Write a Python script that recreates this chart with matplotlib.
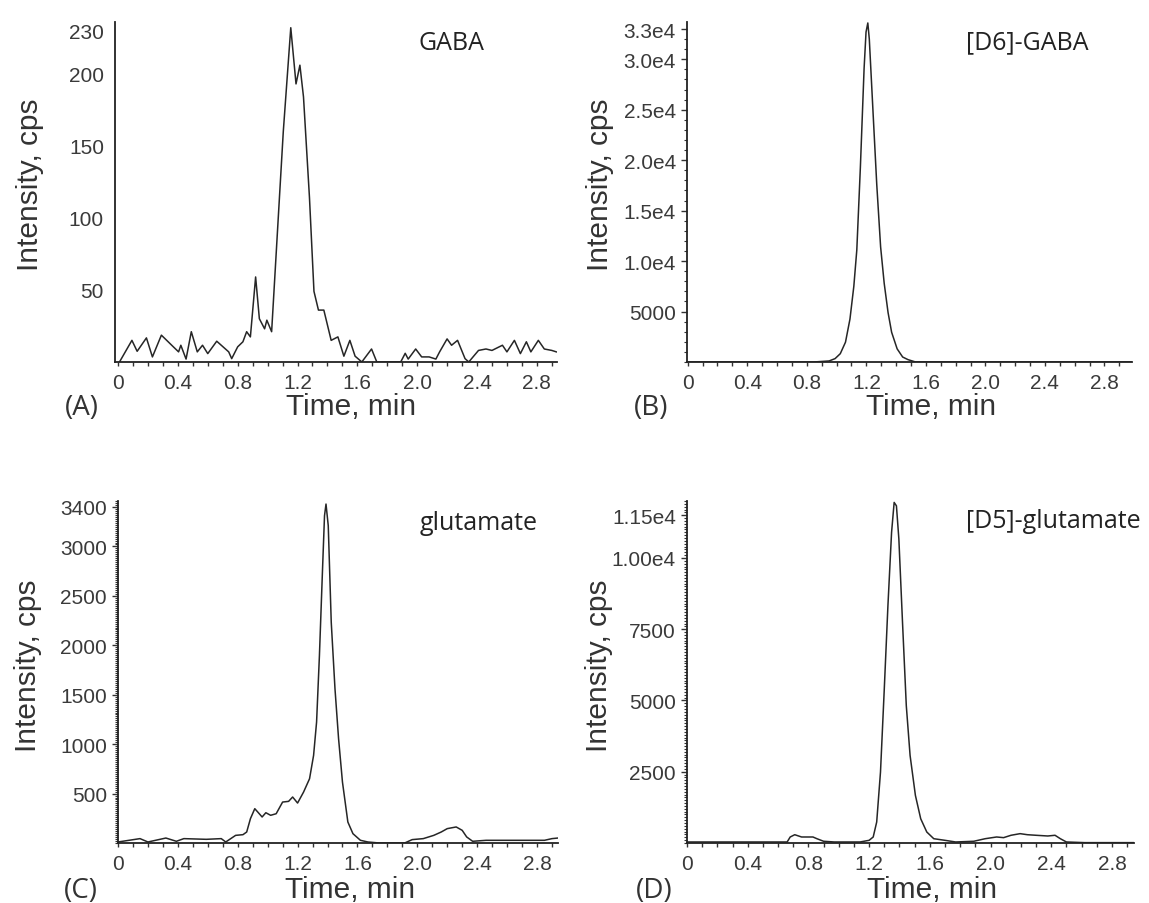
import matplotlib
matplotlib.use("Agg")
import matplotlib.pyplot as plt
from matplotlib.ticker import FixedLocator, MultipleLocator, NullLocator

# Panel A: GABA
time_a = [0.01, 0.093, 0.128, 0.19, 0.23, 0.29, 0.37, 0.405, 0.42, 0.455, 0.49, 0.53,
          0.565, 0.60, 0.66, 0.74, 0.76, 0.80, 0.835, 0.86, 0.885, 0.92, 0.945, 0.98,
          0.995, 1.027, 1.07, 1.105, 1.155, 1.19, 1.216, 1.24, 1.28, 1.31, 1.34, 1.376,
          1.425, 1.47, 1.51, 1.55, 1.585, 1.63, 1.695, 1.73, 1.89, 1.92, 1.94, 1.99,
          2.03, 2.08, 2.125, 2.15, 2.2, 2.23, 2.27, 2.32, 2.345, 2.41, 2.46, 2.5,
          2.57, 2.6, 2.65, 2.69, 2.73, 2.76, 2.81, 2.85, 2.9, 2.93]
int_a = [0, 15, 7.4, 16.7, 3.5, 18.6, 10.5, 7, 11.6, 2, 21, 7,
         11.6, 5.8, 14.4, 7, 2.3, 10.5, 14, 21, 17.4, 59, 30, 23,
         29, 21, 97.7, 160, 232, 193, 206, 184, 114, 49, 36, 36,
         15, 17.4, 4, 15, 4, 0, 9, 0, 0, 6, 2, 9,
         3.5, 3.5, 2, 7, 16, 11.6, 15, 2.3, 0, 8, 9, 8,
         11.6, 7, 15, 5.8, 14, 7, 15, 9, 8, 7]

# Panel B: [D6]-GABA
time_b = [0.0, 0.85, 0.95, 0.99, 1.025, 1.06, 1.09, 1.116, 1.136, 1.16, 1.185, 1.198,
          1.21, 1.22, 1.247, 1.27, 1.296, 1.32, 1.346, 1.37, 1.407, 1.444, 1.48, 1.53, 2.98]
int_b = [0, 0, 100, 330, 820, 1960, 4250, 7500, 11100, 19300, 29100, 32700,
         33600, 32000, 24200, 17600, 11400, 7800, 4900, 2940, 1300, 490, 230, 0, 0]

# Panel C: glutamate
time_c = [0.0, 0.147, 0.2, 0.32, 0.39, 0.44, 0.59, 0.69, 0.72, 0.786, 0.835, 0.86,
          0.885, 0.914, 0.934, 0.963, 0.988, 1.02, 1.057, 1.1, 1.14, 1.167, 1.2, 1.24,
          1.28, 1.307, 1.327, 1.346, 1.366, 1.38, 1.39, 1.405, 1.425, 1.45, 1.474, 1.5,
          1.536, 1.57, 1.62, 1.67, 1.745, 1.916, 1.966, 2.04, 2.11, 2.16, 2.2, 2.26,
          2.3, 2.33, 2.37, 2.46, 2.555, 2.65, 2.75, 2.85, 2.9, 2.94]
int_c = [10, 44, 10, 50, 17, 44, 37, 44, 10, 77, 84, 111,
         246, 347, 313, 263, 306, 280, 296, 414, 421, 465, 404, 515,
         650, 886, 1223, 1896, 2738, 3311, 3429, 3210, 2233, 1560, 1054, 616,
         212, 94, 27, 10, 0, 0, 34, 44, 77, 111, 145, 162,
         128, 61, 17, 27, 27, 27, 27, 27, 44, 50]

# Panel D: [D5]-glutamate
time_d = [0.0, 0.66, 0.68, 0.71, 0.755, 0.83, 0.856, 0.9, 0.97, 1.14, 1.2, 1.227,
          1.25, 1.275, 1.3, 1.324, 1.348, 1.365, 1.38, 1.396, 1.42, 1.445, 1.47, 1.505,
          1.54, 1.58, 1.626, 1.7, 1.77, 1.89, 1.965, 2.04, 2.086, 2.135, 2.195, 2.243,
          2.3, 2.377, 2.425, 2.46, 2.5, 2.62, 2.945]
int_d = [35, 35, 210, 290, 210, 210, 150, 60, 35, 35, 93, 210,
         736, 2490, 5410, 8330, 10900, 11950, 11830, 10670, 7750, 4820, 3070, 1670,
         850, 385, 150, 93, 35, 60, 150, 210, 187, 270, 327, 290,
         270, 245, 270, 150, 35, 12, 12]

xticks = [0, 0.4, 0.8, 1.2, 1.6, 2.0, 2.4, 2.8]
xtick_labels = ["0", "0.4", "0.8", "1.2", "1.6", "2.0", "2.4", "2.8"]

panels = [
    dict(t=time_a, y=int_a, rect=[0.1001, 0.5985, 0.3847, 0.3761], xlim=(-0.02, 2.935),
         ylim=(0, 236), yt=[50, 100, 150, 200, 230], ytl=["50", "100", "150", "200", "230"],
         minor=None, name="GABA", name_xy=(451, 43), tag="(A)", tag_x=82, lab_y=415,
         ylab_xy=(30, 185), xlab_x=351),
    dict(t=time_b, y=int_b, rect=[0.5979, 0.5985, 0.3873, 0.3761], xlim=(-0.005, 2.985),
         ylim=(0, 33700), yt=[5000, 10000, 15000, 20000, 25000, 30000, 33000],
         ytl=["5000", "1.0e4", "1.5e4", "2.0e4", "2.5e4", "3.0e4", "3.3e4"],
         minor=1000, name="[D6]-GABA", name_xy=(1027, 43), tag="(B)", tag_x=651, lab_y=415,
         ylab_xy=(600, 185), xlab_x=931),
    dict(t=time_c, y=int_c, rect=[0.1027, 0.0664, 0.3829, 0.3783], xlim=(0, 2.94),
         ylim=(0, 3460), yt=[500, 1000, 1500, 2000, 2500, 3000, 3400],
         ytl=["500", "1000", "1500", "2000", "2500", "3000", "3400"],
         minor=20, name="glutamate", name_xy=(479, 523), tag="(C)", tag_x=81, lab_y=898,
         ylab_xy=(28, 666), xlab_x=350),
    dict(t=time_d, y=int_d, rect=[0.5979, 0.0664, 0.3890, 0.3783], xlim=(0, 2.945),
         ylim=(0, 12000), yt=[2500, 5000, 7500, 10000, 11500],
         ytl=["2500", "5000", "7500", "1.00e4", "1.15e4"],
         minor=100, name="[D5]-glutamate", name_xy=(1053, 522), tag="(D)", tag_x=654, lab_y=898,
         ylab_xy=(599, 666), xlab_x=932),
]

W, H = 1149, 904
fig = plt.figure(figsize=(W / 100, H / 100), dpi=100)

tick_font = {"family": "Liberation Sans", "size": 15, "color": "#3a3a3a"}

for p in panels:
    ax = fig.add_axes(p["rect"])
    ax.plot(p["t"], p["y"], color="#262626", lw=1.1)
    ax.set_xlim(*p["xlim"])
    ax.set_ylim(*p["ylim"])
    for s in ["top", "right"]:
        ax.spines[s].set_visible(False)
    for s in ["left", "bottom"]:
        ax.spines[s].set_linewidth(1.3)
        ax.spines[s].set_color("#222222")

    ax.xaxis.set_major_locator(FixedLocator(xticks))
    ax.set_xticklabels(xtick_labels, **tick_font)
    ax.xaxis.set_minor_locator(MultipleLocator(0.1))
    ax.tick_params(axis="x", which="both", direction="out", length=3, width=1.0,
                   color="#333333", pad=5)

    ax.yaxis.set_major_locator(FixedLocator(p["yt"]))
    ax.set_yticklabels(p["ytl"], **tick_font)
    if p["minor"] is None:
        ax.tick_params(axis="y", which="both", length=0, pad=8)
        ax.yaxis.set_minor_locator(NullLocator())
    else:
        ax.yaxis.set_minor_locator(MultipleLocator(p["minor"]))
        ax.tick_params(axis="y", which="major", length=4, width=1.0, color="#333333", pad=4)
        ax.tick_params(axis="y", which="minor", length=2.5, width=0.8, color="#333333")

    fig.text(p["ylab_xy"][0] / W, 1 - p["ylab_xy"][1] / H, "Intensity, cps", rotation=90,
             ha="center", va="center", family="Liberation Sans", size=21.5, color="#333333")
    fig.text(p["xlab_x"] / W, 1 - p["lab_y"] / H, "Time, min", ha="center", va="baseline",
             family="Liberation Sans", size=21.5, color="#333333")
    fig.text(p["tag_x"] / W, 1 - p["lab_y"] / H, p["tag"], ha="center", va="baseline",
             family="Open Sans", size=20, color="#333333")
    fig.text(p["name_xy"][0] / W, 1 - p["name_xy"][1] / H, p["name"], ha="center",
             va="center", family="Open Sans", size=18, color="#222222")

fig.savefig("out.png", dpi=100)
